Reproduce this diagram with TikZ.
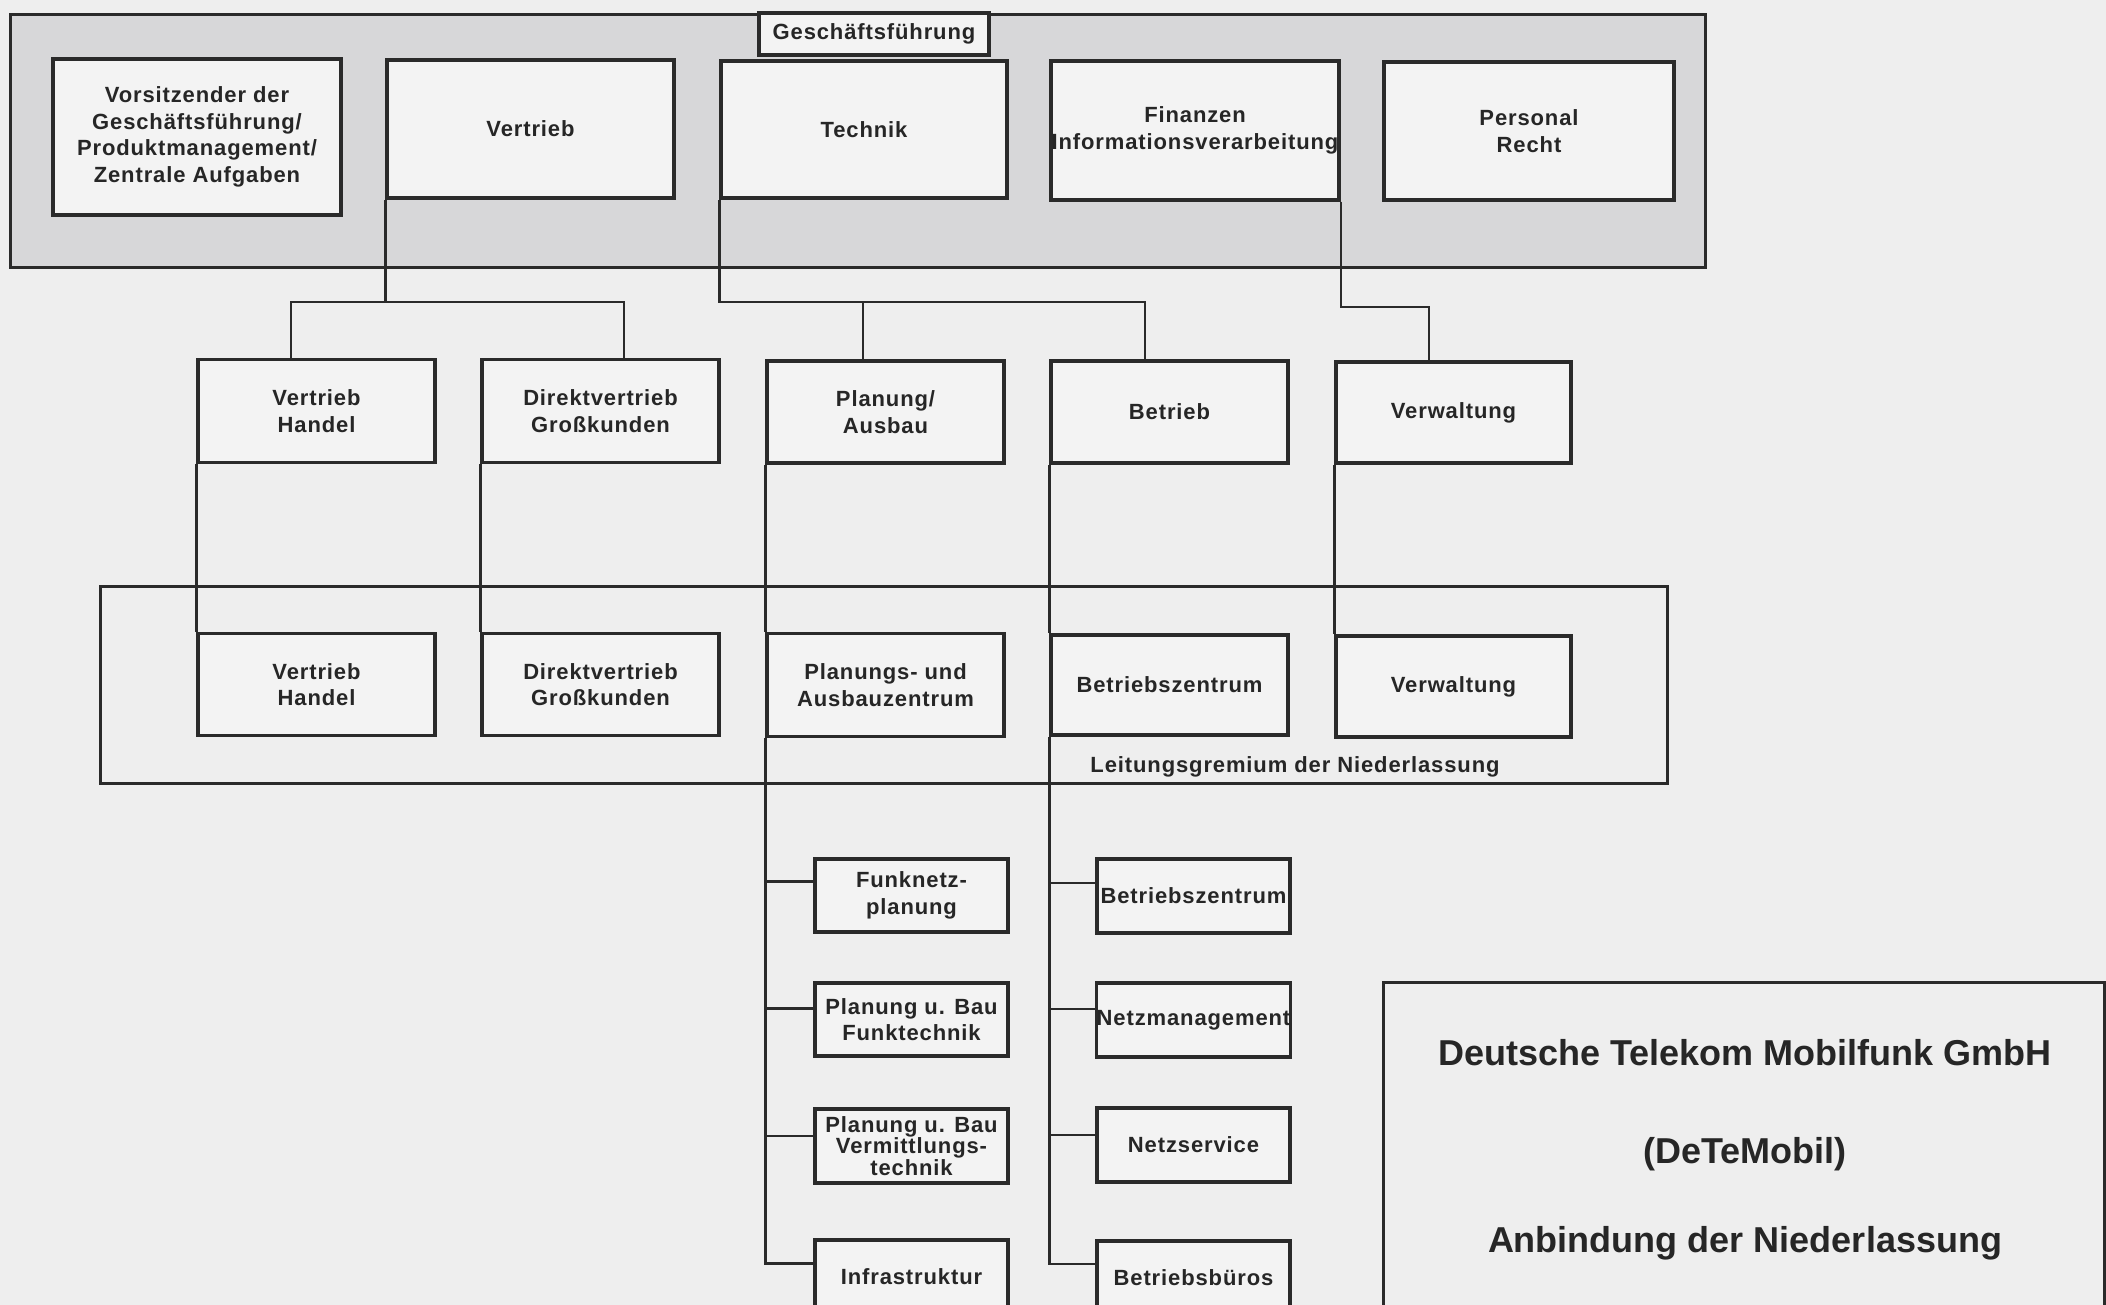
\documentclass[tikz,border=0pt]{standalone}
\usepackage{fontspec}
\newfontfamily\boxfont{Liberation Sans}[LetterSpace=4]
\newfontfamily\bigfont{Liberation Sans}
\definecolor{bgc}{HTML}{EEEEEE}
\definecolor{boardc}{HTML}{D7D7D9}
\definecolor{boxc}{HTML}{F3F3F3}
\definecolor{linec}{HTML}{2A2A2A}
\definecolor{textc}{HTML}{262626}
\tikzset{
  orgbox/.style={draw=linec, line width=3.2pt, fill=boxc, inner sep=0pt, align=center,
    text=textc, font=\boxfont\bfseries\fontsize{22}{26.5}\selectfont},
  board/.style={draw=linec, line width=3pt, inner sep=0pt},
  conn/.style={draw=linec, line width=2.2pt},
  bigtext/.style={anchor=base, text=textc, inner sep=0pt, font=\bigfont\bfseries\fontsize{36}{40}\selectfont},
  labeltext/.style={anchor=base, text=textc, inner sep=0pt, font=\boxfont\bfseries\fontsize{22}{26}\selectfont}
}
\begin{document}
\begin{tikzpicture}[x=1pt,y=-1pt]
\fill[bgc] (0,0) rectangle (2106,1305);
\useasboundingbox (0,0) rectangle (2106,1305);
\clip (0,0) rectangle (2106,1305);

% container boxes
\node[board, fill=boardc, minimum width=1695pt, minimum height=253pt] (board) at (857.5,141.5) {};
\node[board, minimum width=1567pt, minimum height=197pt] (nl) at (883.5,684.5) {};
\node[board, fill=bgc, line width=2.6pt, minimum width=721pt, minimum height=500pt, anchor=north west] (dtm) at (1382,981) {};

% junction coordinates
\coordinate (jvL) at (291,302);
\coordinate (jvR) at (624,302);
\coordinate (jtP) at (863,302);
\coordinate (jtB) at (1145,302);
\coordinate (jf) at (1429,307);

% top row
\node[orgbox, minimum width=230pt, minimum height=42pt] (gf) at (874,34) {Geschäftsführung};
\node[orgbox, minimum width=288pt, minimum height=156pt] (vors) at (197,137)
  {Vorsitzender der\\Geschäftsführung/\\Produktmanagement/\\Zentrale Aufgaben};
\node[orgbox, minimum width=287pt, minimum height=138pt] (vertrieb) at (530.5,129) {Vertrieb};
\node[orgbox, minimum width=286pt, minimum height=137pt] (technik) at (864,129.5) {Technik};
\node[orgbox, minimum width=288pt, minimum height=139pt] (finanzen) at (1195,130.5) {Finanzen\\Informationsverarbeitung};
\node[orgbox, minimum width=290pt, minimum height=138pt] (personal) at (1529,131) {Personal\\Recht};

% second row
\node[orgbox, minimum width=237pt, minimum height=103pt] (vh1) at (316.5,411) {Vertrieb\\Handel};
\node[orgbox, minimum width=237pt, minimum height=103pt] (dv1) at (600.5,411) {Direktvertrieb\\Großkunden};
\node[orgbox, minimum width=237pt, minimum height=102pt] (pa) at (885.5,412) {Planung/\\Ausbau};
\node[orgbox, minimum width=237pt, minimum height=102pt] (betrieb) at (1169.5,412) {Betrieb};
\node[orgbox, minimum width=235pt, minimum height=101pt] (verw1) at (1453.5,412.5) {Verwaltung};

% third row (Niederlassung)
\node[orgbox, minimum width=237pt, minimum height=102pt] (vh2) at (316.5,684.5) {Vertrieb\\Handel};
\node[orgbox, minimum width=237pt, minimum height=102pt] (dv2) at (600.5,684.5) {Direktvertrieb\\Großkunden};
\node[orgbox, minimum width=237pt, minimum height=103pt] (paz) at (885.5,685) {Planungs- und\\Ausbauzentrum};
\node[orgbox, minimum width=237pt, minimum height=100pt] (bz) at (1169.5,685) {Betriebszentrum};
\node[orgbox, minimum width=235pt, minimum height=101pt] (verw2) at (1453.5,686.5) {Verwaltung};
\node[labeltext] (lg) at (1295,772) {Leitungsgremium der Niederlassung};

% fourth level
\node[orgbox, minimum width=193pt, minimum height=73pt] (funk) at (911.5,895.5) {Funknetz-\\planung};
\node[orgbox, minimum width=193pt, minimum height=73pt] (pubf) at (911.5,1019.5) {Planung u. Bau\\Funktechnik};
\node[orgbox, minimum width=193pt, minimum height=74pt, font=\boxfont\bfseries\fontsize{22}{18}\selectfont] (pubv) at (911.5,1146) {Planung u. Bau\\Vermittlungs-\\technik};
\node[orgbox, minimum width=193pt, minimum height=73pt] (infra) at (911.5,1276.5) {Infrastruktur};
\node[orgbox, minimum width=193pt, minimum height=74pt] (bz3) at (1193.5,896) {Betriebszentrum};
\node[orgbox, minimum width=193pt, minimum height=74pt] (nm) at (1193.5,1020) {Netzmanagement};
\node[orgbox, minimum width=193pt, minimum height=74pt] (ns) at (1193.5,1145) {Netzservice};
\node[orgbox, minimum width=193pt, minimum height=74pt] (bb) at (1193.5,1278) {Betriebsbüros};

% DeTeMobil texts
\node[bigtext] (dt1) at (1745,1065) {Deutsche Telekom Mobilfunk GmbH};
\node[bigtext] (dt2) at (1745,1163) {(DeTeMobil)};
\node[bigtext] (dt3) at (1745,1252) {Anbindung der Niederlassung};

% connectors
\draw[conn] (vertrieb.south west) -- (vertrieb.south west |- jvL);
\draw[conn] (vh1.north -| jvL) -- (jvL) -- (jvR) -- (dv1.north -| jvR);
\draw[conn] (technik.south west) |- (jtB) -- (betrieb.north -| jtB);
\draw[conn] (jtP) -- (pa.north -| jtP);
\draw[conn] (finanzen.south east) |- (jf) -- (verw1.north -| jf);

\draw[conn] (vh1.south west) -- (vh2.north west);
\draw[conn] (dv1.south west) -- (dv2.north west);
\draw[conn] (pa.south west) -- (paz.north west);
\draw[conn] (betrieb.south west) -- (bz.north west);
\draw[conn] (verw1.south west) -- (verw2.north west);

\draw[conn] ([yshift=14pt]funk.west) -| (paz.south west);
\draw[conn] ([yshift=11pt]pubf.west) -| (paz.south west);
\draw[conn] ([yshift=10pt]pubv.west) -| (paz.south west);
\draw[conn] ([yshift=13pt]infra.west) -| (paz.south west);
\draw[conn] ([yshift=13pt]bz3.west) -| (bz.south west);
\draw[conn] ([yshift=11pt]nm.west) -| (bz.south west);
\draw[conn] ([yshift=10pt]ns.west) -| (bz.south west);
\draw[conn] ([yshift=14pt]bb.west) -| (bz.south west);
\end{tikzpicture}
\end{document}
